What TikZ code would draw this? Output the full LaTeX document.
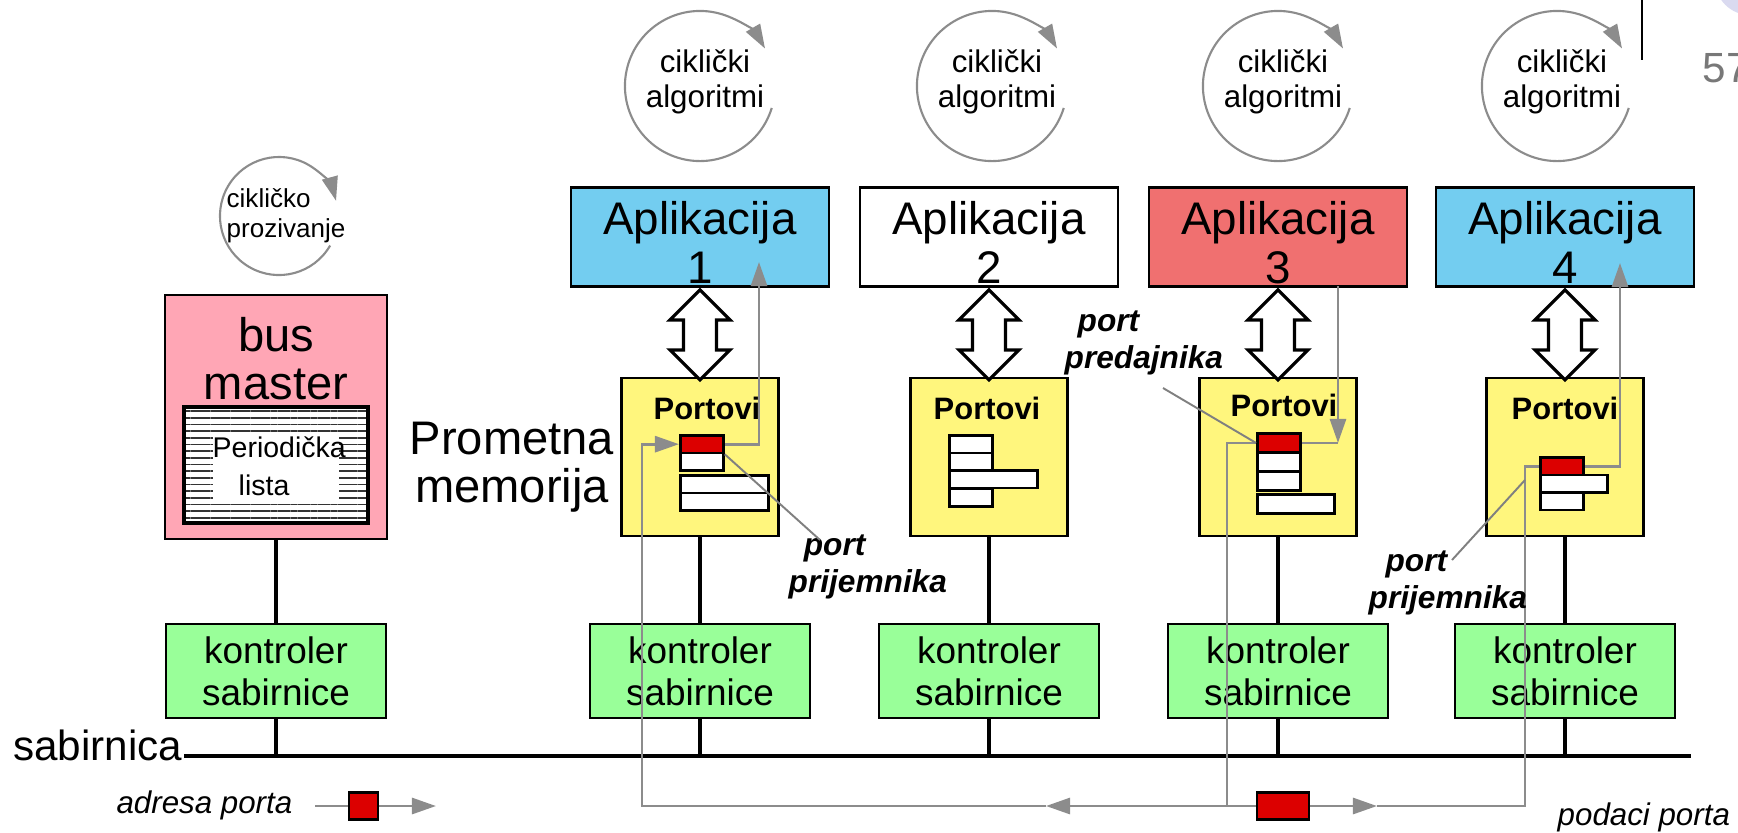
\documentclass[tikz,border=0pt]{standalone}
\usepackage{fontspec}
\setmainfont{Liberation Sans}
\usepackage{xcolor}
\usetikzlibrary{
    arrows.meta,
    calc,
    patterns.meta
}
\definecolor{appBlue}{RGB}{115,205,240}
\definecolor{appRed}{RGB}{240,112,112}
\definecolor{portYellow}{RGB}{255,246,125}
\definecolor{masterPink}{RGB}{255,166,181}
\definecolor{ctrlGreen}{RGB}{153,255,153}
\definecolor{portRed}{RGB}{220,0,0}
\definecolor{lavender}{RGB}{218,218,240}
\newcommand{\apptop}{\rule{0pt}{12.6pt}}
\tikzset{
  appbox/.style    = {draw, line width=0.8pt, minimum width=2.58cm,
                      minimum height=0.99cm, align=center, inner sep=0pt,
                      font=\fontsize{13pt}{14pt}\selectfont},
  portbox/.style   = {draw, line width=0.8pt, fill=portYellow,
                      minimum width=1.57cm, minimum height=1.58cm},
  porttitle/.style = {anchor=base, inner sep=0pt,
                      font=\bfseries\fontsize{8.8pt}{10pt}\selectfont},
  ctrlbox/.style   = {draw, line width=0.8pt, fill=ctrlGreen, minimum width=2.2cm,
                      minimum height=0.94cm, align=center, inner sep=0pt,
                      font=\fontsize{10.5pt}{12pt}\selectfont},
  cell/.style      = {draw, line width=0.8pt, fill=white, inner sep=0pt,
                      anchor=north west, minimum width=0.43cm, minimum height=0.175cm},
  wide/.style      = {minimum width=0.88cm},
  hot/.style       = {fill=portRed},
  hotbox/.style    = {draw, line width=0.8pt, fill=portRed, inner sep=0pt,
                      minimum height=0.27cm},
  bigtext/.style   = {align=center, inner sep=0pt,
                      font=\fontsize{13.4pt}{13.7pt}\selectfont},
  cyctext/.style   = {align=center, inner sep=0pt,
                      font=\fontsize{8.9pt}{10pt}\selectfont},
  labtext/.style   = {align=left, anchor=west, inner sep=0pt,
                      font=\bfseries\itshape\fontsize{9pt}{10.5pt}\selectfont},
  legend/.style    = {inner sep=0pt, font=\itshape\fontsize{8.9pt}{10pt}\selectfont},
  dblarr/.pic      = {
    \draw[line width=0.9pt, fill=white]
      (0,2) -- (30,32) -- (16.5,32) -- (16.5,62) -- (30,62) -- (0,92)
      -- (-30,62) -- (-16.5,62) -- (-16.5,32) -- (-30,32) -- cycle;
  }
}

\begin{document}
\begin{tikzpicture}[
    x=0.01cm, y=-0.01cm,
    >={Triangle[length=2.4mm, width=1.6mm]},
    flow/.style={draw=black!45, line width=0.8pt},
    leader/.style={draw=black!50, line width=0.55pt},
    cycarr/.style={->, draw=black!45, line width=0.6pt},
    link/.style={line width=1.4pt},
    bus/.style={line width=1.4pt}
]
\path[use as bounding box, clip] (0,0) rectangle (1738,832);

% --- PAGE CORNER ---
\fill[lavender] (1750,-20) circle[radius=0.35cm];
\draw[line width=0.8pt] (1642,0) -- (1642,60);
\node[anchor=base west, inner sep=0pt, text=black!53,
      font=\fontsize{12pt}{14pt}\selectfont] (pagenum) at (1702,82) {57};

% --- CYCLIC LOOPS ---
\coordinate (o0) at (279,216);
\node[anchor=west, align=left, inner sep=0pt,
      font=\fontsize{7.4pt}{8.5pt}\selectfont] (cyc0) at (226,215.5) {cikličko\\prozivanje};
\draw[cycarr] (o0) ++(-30:0.59cm) arc[start angle=-30, end angle=-345, radius=0.59cm];

\coordinate (o1) at (700,86);
\coordinate (o2) at (992,86);
\coordinate (o3) at (1278,86);
\coordinate (o4) at (1557,86);
\node[cyctext] (cyc1) at (705,82) {ciklički\\algoritmi};
\node[cyctext] (cyc2) at (997,82) {ciklički\\algoritmi};
\node[cyctext] (cyc3) at (1283,82) {ciklički\\algoritmi};
\node[cyctext] (cyc4) at (1562,82) {ciklički\\algoritmi};
\draw[cycarr] (o1) ++(-17:0.75cm) arc[start angle=-17, end angle=-330, radius=0.75cm];
\draw[cycarr] (o2) ++(-17:0.75cm) arc[start angle=-17, end angle=-330, radius=0.75cm];
\draw[cycarr] (o3) ++(-17:0.75cm) arc[start angle=-17, end angle=-330, radius=0.75cm];
\draw[cycarr] (o4) ++(-17:0.75cm) arc[start angle=-17, end angle=-330, radius=0.75cm];

% --- APPLICATIONS ---
\node[appbox, fill=appBlue] (app1) at (700,237) {\apptop Aplikacija\\1};
\node[appbox, fill=white]   (app2) at (989,237) {\apptop Aplikacija\\2};
\node[appbox, fill=appRed]  (app3) at (1278,237) {\apptop Aplikacija\\3};
\node[appbox, fill=appBlue] (app4) at (1565,237) {\apptop Aplikacija\\4};

% --- PORT MEMORIES ---
\node[portbox] (port1) at (700,457) {};
\node[portbox] (port2) at (989,457) {};
\node[portbox] (port3) at (1278,457) {};
\node[portbox] (port4) at (1565,457) {};
\node[porttitle] (pt1) at (707,419) {Portovi};
\node[porttitle] (pt2) at (987,419) {Portovi};
\node[porttitle] (pt3) at (1284,416) {Portovi};
\node[porttitle] (pt4) at (1565,419) {Portovi};

\node[bigtext] (mem) at (512,467) {Prometna\\memorija};

% --- DOUBLE ARROWS ---
\pic at (app1.south) {dblarr};
\pic at (app2.south) {dblarr};
\pic at (app3.south) {dblarr};
\pic at (app4.south) {dblarr};

% --- BUS MASTER ---
\node[draw, line width=0.8pt, fill=masterPink, minimum width=2.22cm,
      minimum height=2.44cm] (master) at (276,417) {};
\node[bigtext] (mastertxt) at (276,359) {bus\\master};
\node[draw, line width=1pt, preaction={fill=white},
      pattern={Lines[angle=0, distance=1.9pt, line width=0.5pt]}, pattern color=black!80,
      minimum width=1.84cm, minimum height=1.16cm] (plist) at (276,465) {};
\node[fill=white, minimum width=1.26cm, minimum height=0.7cm] (plistw) at (276,468) {};
\node[align=left, anchor=west, inner sep=0pt,
      font=\fontsize{8.1pt}{10.8pt}\selectfont] (plisttxt) at (212,466) {Periodička\\\hspace*{7.4pt}lista};

% --- BUS CONTROLLERS ---
\node[ctrlbox] (ctrl0) at (276,671) {kontroler\\sabirnice};
\node[ctrlbox] (ctrl1) at (700,671) {kontroler\\sabirnice};
\node[ctrlbox] (ctrl2) at (989,671) {kontroler\\sabirnice};
\node[ctrlbox] (ctrl3) at (1278,671) {kontroler\\sabirnice};
\node[ctrlbox] (ctrl4) at (1565,671) {kontroler\\sabirnice};

% --- BUS ---
\coordinate (busW) at (184,756);
\coordinate (busE) at (1691,756);
\draw[bus] (busW) -- (busE);
\node[anchor=base east, inner sep=0pt, font=\fontsize{12pt}{14pt}\selectfont]
  (busname) at (183,760) {sabirnica};

\draw[link] (master) -- (ctrl0);
\draw[link] (port1) -- (ctrl1);
\draw[link] (port2) -- (ctrl2);
\draw[link] (port3) -- (ctrl3);
\draw[link] (port4) -- (ctrl4);
\draw[link] (ctrl0.south) -- (ctrl0.south |- busW);
\draw[link] (ctrl1.south) -- (ctrl1.south |- busW);
\draw[link] (ctrl2.south) -- (ctrl2.south |- busW);
\draw[link] (ctrl3.south) -- (ctrl3.south |- busW);
\draw[link] (ctrl4.south) -- (ctrl4.south |- busW);

% --- PORT CELLS ---
\node[cell, hot]  (r1a) at (679,434) {};
\node[cell]       (r1b) at (679,451.5) {};
\node[cell, wide] (r1c) at (679,474) {};
\node[cell, wide] (r1d) at (679,491.5) {};

\node[cell]       (r2a) at (948,434) {};
\node[cell]       (r2b) at (948,451.5) {};
\node[cell, wide] (r2c) at (948,469) {};
\node[cell]       (r2d) at (948,487.5) {};

\node[cell, hot, minimum height=0.19cm] (r3a) at (1256,432) {};
\node[cell, minimum height=0.19cm]      (r3b) at (1256,451) {};
\node[cell, minimum height=0.19cm]      (r3c) at (1256,470) {};
\node[cell, minimum height=0.19cm, minimum width=0.77cm] (r3d) at (1256,493) {};

\node[cell, hot] (r4a) at (1539,456) {};
\node[cell, minimum width=0.67cm] (r4b) at (1539,473.5) {};
\node[cell]      (r4c) at (1539,491) {};

% --- DATA FLOW ---
\coordinate (in1) at (759,262);
\coordinate (out3) at (1338,286);
\coordinate (in4) at (1620,263);
\coordinate (j1) at (642,806);
\coordinate (j3) at (1227,806);
\coordinate (j4) at (1525,806);
\coordinate (m1) at (1046,806);
\coordinate (m3) at (1377,806);

\draw[flow, ->] (out3) -- (out3 |- r3a.east);
\draw[flow] (r3a.east) -- (out3 |- r3a.east);
\draw[flow] (r3a.west) -| (j3);
\draw[flow, ->] (j3) -- (m1);
\draw[flow, ->] (m1) -- (j1) |- (r1a.west);
\draw[flow, ->] (r1a.east) -| (in1);
\draw[flow, ->] (j3) -- (m3);
\draw[flow] (m3) -- (j4) |- (r4a.west);
\draw[flow, ->] (r4a.east) -| (in4);

\node[hotbox, minimum width=0.52cm] (pkt) at (1283,806) {};
\node[legend, anchor=base west] (podaci) at (1557,825) {podaci porta};

% --- PORT LABELS ---
\node[labtext] (lab1) at (788,566.5) {\hspace*{4.3pt}port\\prijemnika};
\node[labtext] (lab3) at (1064,343) {\hspace*{3.7pt}port\\predajnika};
\node[labtext] (lab4) at (1368,582.5) {\hspace*{4.8pt}port\\prijemnika};
\coordinate (l1) at (820,540);
\coordinate (l3) at (1163,388);
\coordinate (l4) at (1452,560);
\coordinate (l4e) at (1525,480);
\draw[leader] (r1a.south east) -- (l1);
\draw[leader] (l3) -- (r3a.west);
\draw[leader] (l4) -- (l4e);

% --- LEGEND ---
\node[legend, anchor=base east] (adresa) at (293,813) {adresa porta};
\coordinate (lgS) at (315,806);
\coordinate (lgE) at (436,806);
\draw[flow, ->] (lgS) -- (lgE);
\node[hotbox, minimum width=0.29cm] (lgbox) at (363.5,806) {};
\end{tikzpicture}
\end{document}
